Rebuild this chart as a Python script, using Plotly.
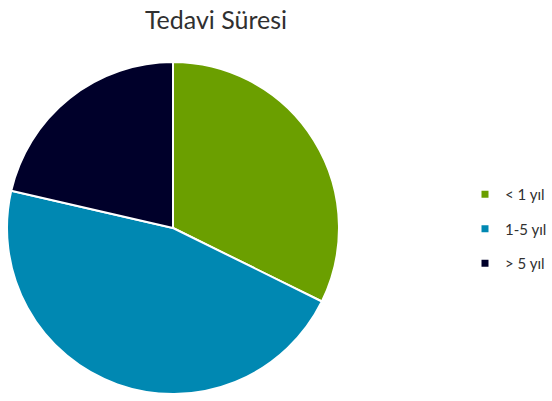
import plotly.graph_objects as go

title = "Tedavi Süresi"
labels = ["< 1 yıl", "1-5 yıl", "> 5 yıl"]
values = [32.3, 46.3, 21.4]
colors = ["#6B9F00", "#0088B2", "#00002A"]

W, H = 552, 401
cx, cy, r = 173, 228, 166  # pie centre / radius in pixels

fig = go.Figure()
fig.add_trace(
    go.Pie(
        labels=labels,
        values=values,
        sort=False,
        direction="clockwise",
        rotation=0,
        textinfo="none",
        showlegend=False,
        hoverinfo="label+percent",
        marker=dict(colors=colors, line=dict(color="white", width=2)),
        domain=dict(x=[(cx - r) / W, (cx + r) / W], y=[1 - (cy + r) / H, 1 - (cy - r) / H]),
    )
)

# legend entries (small squares, widely spaced like the original)
for lab, col in zip(labels, colors):
    fig.add_trace(
        go.Scatter(
            x=[None],
            y=[None],
            mode="markers",
            name=lab,
            legendgroup=lab,
            marker=dict(symbol="square", size=7, color=col),
            hoverinfo="skip",
        )
    )

fig.update_layout(
    width=W,
    height=H,
    margin=dict(l=0, r=0, t=0, b=0, autoexpand=False),
    paper_bgcolor="white",
    plot_bgcolor="white",
    xaxis=dict(visible=False),
    yaxis=dict(visible=False),
    font=dict(family="Lato, 'Open Sans', sans-serif", color="#404040"),
    title=dict(
        text=title,
        x=216 / W,
        xanchor="center",
        y=1 - 20 / H,
        yanchor="middle",
        font=dict(size=25, color="#303030", family="Lato, 'Open Sans', sans-serif"),
    ),
    legend=dict(
        x=465 / W,
        xanchor="left",
        y=1 - 229 / H,
        yanchor="middle",
        font=dict(size=15, color="#303030"),
        itemwidth=30,
        tracegroupgap=12,
        bgcolor="rgba(0,0,0,0)",
    ),
)

fig.write_html(
    "out.html",
    config={"displayModeBar": False},
    post_script="document.body.style.margin='0';document.body.style.overflow='hidden';",
)
